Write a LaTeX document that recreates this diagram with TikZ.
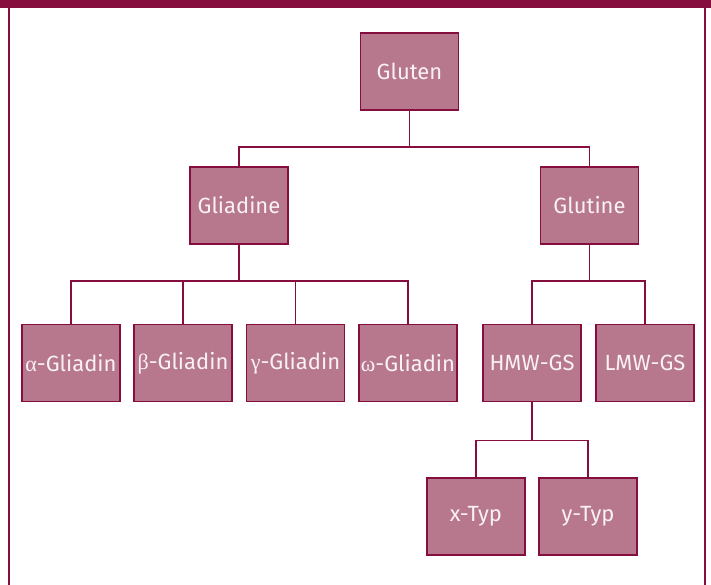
\documentclass[tikz,border=0pt]{standalone}
\usepackage{fontspec}
\setmainfont{Fira Sans}
\newfontfamily\grk{Liberation Serif}
\definecolor{maroon}{HTML}{850E3F}
\definecolor{mauve}{HTML}{B7788D}
\definecolor{txt}{HTML}{F9F1F4}
\begin{document}
\begin{tikzpicture}[x=1pt,y=-1pt]
    \tikzset{box/.style = {minimum width = 98pt, minimum height = 77pt, shape = rectangle, line width = 1.6pt, draw = maroon, fill = mauve, text = txt, inner sep = 0pt, font = \fontsize{22}{26}\selectfont}, edge/.style = {line width = 1.5pt, draw = maroon}}
    \useasboundingbox (0,0) rectangle (711,585);
    \fill[white] (0,0) rectangle (711,585);
    \draw[line width=1.8pt,draw=maroon] (9,0) -- (9,590) (705,0) -- (705,590);
    \fill[maroon] (0,0) rectangle (711,8);
    \def\ya{71.5}
    \def\yb{205.5}
    \def\yc{363}
    \def\yd{516.5}
    \node[box] (glu) at (409.5,\ya){Gluten};
    \node[box] (gli) at (239,\yb){Gliadine};
    \node[box] (glt) at (589.5,\yb){Glutine};
    \node[box] (al) at (71,\yc){{\grk α}-Gliadin};
    \node[box] (be) at (183,\yc){{\grk β}-Gliadin};
    \node[box] (ga) at (295.5,\yc){{\grk γ}-Gliadin};
    \node[box] (om) at (408,\yc){{\grk ω}-Gliadin};
    \node[box] (hmw) at (532,\yc){HMW-GS};
    \node[box] (lmw) at (645,\yc){LMW-GS};
    \node[box] (xt) at (476,\yd){x-Typ};
    \node[box] (yt) at (588,\yd){y-Typ};
    \draw[edge] (glu.south) -- ++(0,36) -| (gli.north);
    \draw[edge] (glu.south) -- ++(0,36) -| (glt.north);
    \foreach \n in {al,be,ga,om}
        \draw[edge] (gli.south) -- ++(0,36) -| (\n.north);
    \foreach \n in {hmw,lmw}
        \draw[edge] (glt.south) -- ++(0,36) -| (\n.north);
    \foreach \n in {xt,yt}
        \draw[edge] (hmw.south) -- ++(0,38) -| (\n.north);
\end{tikzpicture}
\end{document}
